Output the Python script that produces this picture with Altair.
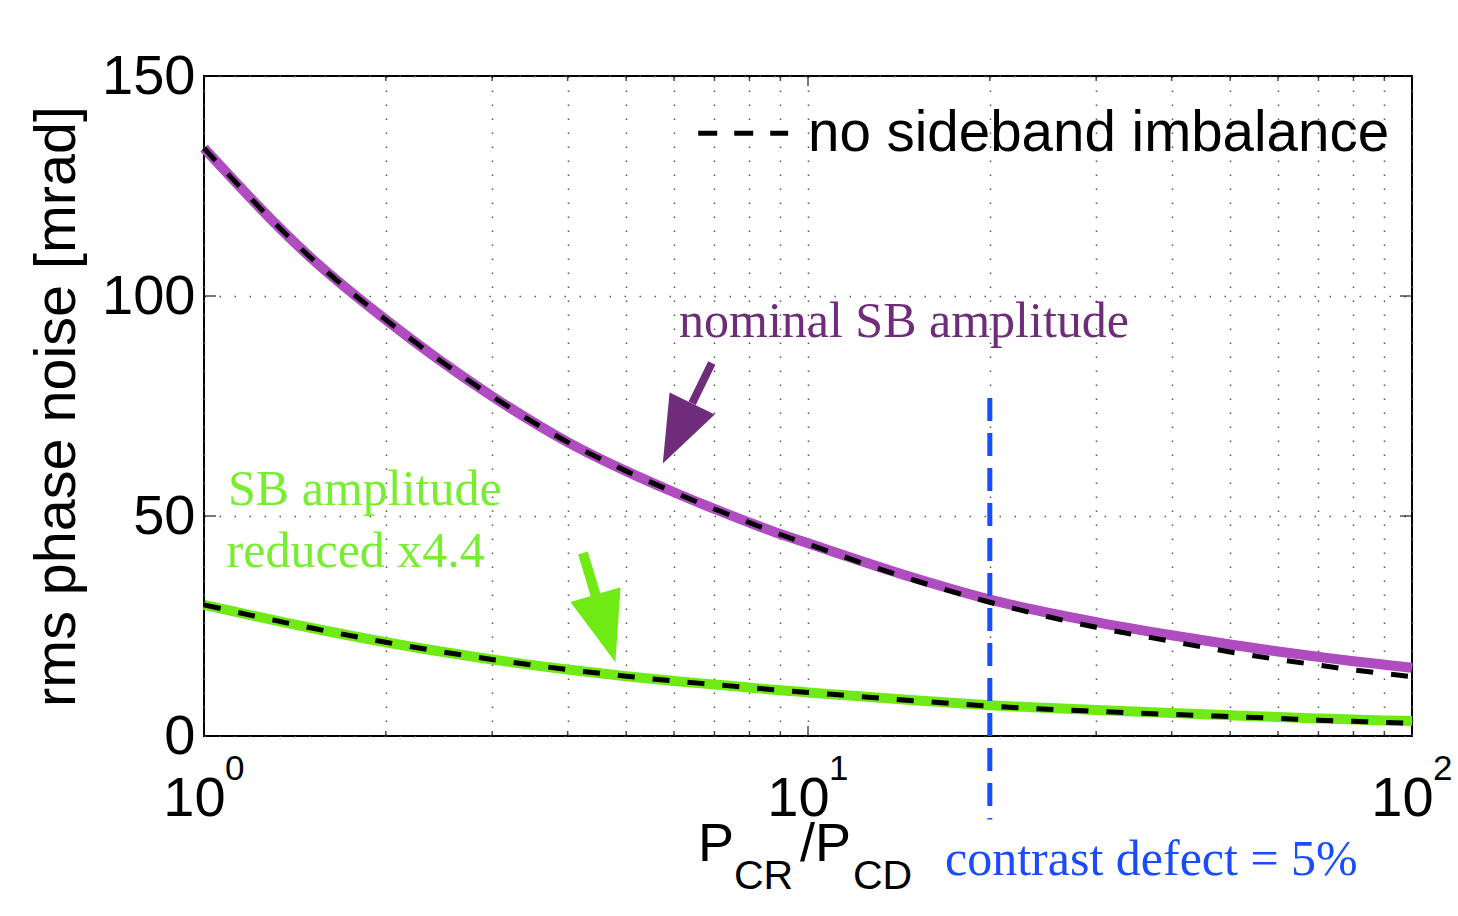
import altair as alt
import pandas as pd

# ---------------- data ----------------
x_vals = [1, 1.5, 2, 3, 4, 5, 6, 7, 8, 9, 10, 15, 20, 30, 40, 50, 60, 70, 80, 90, 100]
nominal_sb = [133.6, 108.8, 94.6, 77.2, 66.8, 60.2, 55.4, 51.6, 48.5, 45.9, 43.8,
              35.9, 31.0, 25.9, 22.9, 20.8, 19.2, 18.0, 17.0, 16.2, 15.5]
nominal_no_imb = [133.6, 108.8, 94.6, 77.2, 66.8, 60.2, 55.4, 51.6, 48.5, 45.8, 43.6,
                  35.4, 30.4, 24.7, 21.5, 19.1, 17.4, 16.1, 15.0, 14.2, 13.5]
reduced_sb = [29.8, 24.6, 21.3, 17.4, 15.1, 13.6, 12.5, 11.7, 11.0, 10.4, 9.9,
              8.1, 7.0, 5.9, 5.2, 4.7, 4.3, 4.0, 3.75, 3.55, 3.4]
reduced_no_imb = [29.8, 24.6, 21.3, 17.4, 15.1, 13.6, 12.5, 11.7, 11.0, 10.4, 9.9,
                  8.0, 6.8, 5.6, 4.9, 4.4, 4.0, 3.6, 3.35, 3.1, 2.9]

x_grid = [1, 2, 3, 4, 5, 6, 7, 8, 9, 10, 20, 30, 40, 50, 60, 70, 80, 90, 100]
x_major = [1, 10, 100]
x_minor = [2, 3, 4, 5, 6, 7, 8, 9, 20, 30, 40, 50, 60, 70, 80, 90]
y_ticks = [0, 50, 100, 150]
exponents = ["0", "1", "2"]

contrast_x = [20]
contrast_y = [76.8]
contrast_y2 = [-19.0]

# arrows (data coordinates)
purple_shaft = {"x": [6.93], "y": [84.8], "x2": [6.43], "y2": [75.6]}
purple_head = {"x": [6.08], "y": [68.75]}
green_shaft = {"x": [4.24], "y": [41.6], "x2": [4.46], "y2": [31.6]}
green_head = {"x": [4.62], "y": [24.45]}

# legend sample
legend_line = {"x": [6.58], "x2": [9.27], "y": [137.0], "y2": [137.0]}
legend_text = {"x": [10.0], "y": [133.0], "t": ["no sideband imbalance"]}

# ---------------- frames ----------------
def frame(d):
    return pd.DataFrame(d)

curve_nom = frame({"x": x_vals, "y": nominal_sb})
curve_nom_b = frame({"x": x_vals, "y": nominal_no_imb})
curve_red = frame({"x": x_vals, "y": reduced_sb})
curve_red_b = frame({"x": x_vals, "y": reduced_no_imb})

X_SCALE = alt.Scale(type="log", domain=[1, 100], nice=False)
Y_SCALE = alt.Scale(domain=[0, 150], nice=False, zero=False)

SANS = "Liberation Sans"
SERIF = "Liberation Serif"

x_axis = alt.Axis(
    values=x_grid,
    labelExpr="(datum.value == 1 || datum.value == 10 || datum.value == 100) ? '10' : ''",
    labelFont=SANS, labelFontSize=56, labelColor="black",
    labelPadding=35, labelOffset=-10, labelFlush=False, labelOverlap=False,
    ticks=False, domain=False,
    grid=True, gridColor="#555555", gridDash=[1.5, 12.5], gridWidth=1.5, gridOpacity=1,
    title=None,
)
y_axis = alt.Axis(
    values=y_ticks,
    labelFont=SANS, labelFontSize=56, labelColor="black", labelPadding=9,
    ticks=False, domain=False,
    grid=True, gridColor="#555555", gridDash=[1.5, 13.5], gridWidth=1.5, gridOpacity=1,
    title="rms phase noise [mrad]", titleFont=SANS, titleFontSize=57.5,
    titleFontWeight="normal", titleColor="black", titlePadding=15,
)


def X():
    return alt.X("x:Q", scale=X_SCALE, axis=x_axis)


def Y():
    return alt.Y("y:Q", scale=Y_SCALE, axis=y_axis)


layers = []

# thick coloured curves
layers.append(alt.Chart(curve_nom).mark_line(color="#AF4CBF", strokeWidth=10, interpolate="monotone")
              .encode(x=X(), y=Y()))
layers.append(alt.Chart(curve_red).mark_line(color="#6FEA14", strokeWidth=10, interpolate="monotone")
              .encode(x=X(), y=Y()))
# black dashed curves
for df in (curve_nom_b, curve_red_b):
    layers.append(alt.Chart(df).mark_line(color="black", strokeWidth=5, strokeDash=[17, 18],
                                          strokeCap="butt", interpolate="monotone")
                  .encode(x=X(), y=Y()))

# inward ticks (clipped to plot area)
for yy in (0, 150):
    layers.append(alt.Chart(frame({"x": x_minor, "y": [yy] * len(x_minor)}))
                  .mark_tick(orient="vertical", size=10, thickness=1.5, color="black", clip=True)
                  .encode(x=X(), y=Y()))
    layers.append(alt.Chart(frame({"x": x_major, "y": [yy] * len(x_major)}))
                  .mark_tick(orient="vertical", size=20, thickness=1.5, color="black", clip=True)
                  .encode(x=X(), y=Y()))
for xx in (1, 100):
    layers.append(alt.Chart(frame({"x": [xx] * len(y_ticks), "y": y_ticks}))
                  .mark_tick(orient="horizontal", size=24, thickness=1.5, color="black", clip=True)
                  .encode(x=X(), y=Y()))

# contrast defect line
layers.append(alt.Chart(frame({"x": contrast_x, "y": contrast_y, "y2": contrast_y2}))
              .mark_rule(color="#1450FF", strokeWidth=5, strokeDash=[23, 12], strokeCap="butt")
              .encode(x=X(), y=Y(), y2="y2:Q"))

# arrows
layers.append(alt.Chart(frame(purple_shaft)).mark_rule(color="#6E2C7A", strokeWidth=8, strokeCap="butt")
              .encode(x=X(), y=Y(), x2="x2:Q", y2="y2:Q"))
layers.append(alt.Chart(frame(purple_head)).mark_point(shape="M0,-1L0.75,1L-0.75,1Z", filled=True,
                                                       opacity=1, color="#6E2C7A", size=4489, angle=206)
              .encode(x=X(), y=Y()))
layers.append(alt.Chart(frame(green_shaft)).mark_rule(color="#6FEA14", strokeWidth=10, strokeCap="butt")
              .encode(x=X(), y=Y(), x2="x2:Q", y2="y2:Q"))
layers.append(alt.Chart(frame(green_head)).mark_point(shape="M0,-1L0.74,1L-0.74,1Z", filled=True,
                                                      opacity=1, color="#6FEA14", size=4985, angle=163.6)
              .encode(x=X(), y=Y()))

# legend
layers.append(alt.Chart(frame(legend_line)).mark_rule(color="black", strokeWidth=5, strokeDash=[19, 17],
                                                      strokeCap="butt")
              .encode(x=X(), y=Y(), x2="x2:Q", y2="y2:Q"))
layers.append(alt.Chart(frame(legend_text)).mark_text(font=SANS, fontSize=56.5, align="left",
                                                      baseline="alphabetic", color="black")
              .encode(x=X(), y=Y(), text="t:N"))


def text_layer(xs, ys, texts, font, size, color):
    return (alt.Chart(frame({"x": xs, "y": ys, "t": texts}))
            .mark_text(font=font, fontSize=size, align="left", baseline="alphabetic", color=color)
            .encode(x=X(), y=Y(), text="t:N"))


# annotations
layers.append(text_layer([6.115], [90.7], ["nominal SB amplitude"], SERIF, 50, "#6E2C7A"))
layers.append(text_layer([1.096], [52.5], ["SB amplitude"], SERIF, 50, "#78EE30"))
layers.append(text_layer([1.09], [38.4], ["reduced x4.4"], SERIF, 50, "#78EE30"))
layers.append(text_layer([16.86], [-31.6], ["contrast defect = 5%"], SERIF, 50, "#1A4CFF"))

# x-axis title P_CR / P_CD
layers.append(text_layer([6.575, 9.70], [-28.3, -28.3], ["P", "/P"], SANS, 54, "black"))
layers.append(text_layer([7.54, 11.87], [-34.7, -34.7], ["CR", "CD"], SANS, 41, "black"))

# exponents of tick labels
layers.append(alt.Chart(frame({"x": x_major, "y": [-10.0] * 3, "t": exponents}))
              .mark_text(font=SANS, fontSize=35, align="left", baseline="alphabetic", color="black", dx=21)
              .encode(x=X(), y=Y(), text="t:N"))

chart = (
    alt.layer(*layers)
    .properties(
        width=1208, height=660,
        autosize=alt.AutoSizeParams(type="none"),
        padding={"left": 204, "top": 76, "right": 46, "bottom": 180},
        background="white",
    )
    .configure_view(stroke="black", strokeWidth=2)
)

chart.save("out.html", embed_options={"renderer": "svg", "actions": False})
